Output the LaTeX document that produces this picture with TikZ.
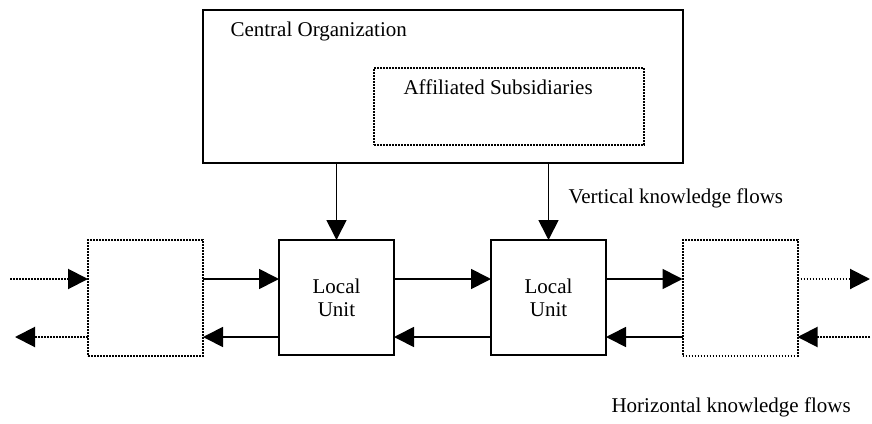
\documentclass[tikz,border=0pt]{standalone}
\usepackage{fontspec}
\setmainfont{Liberation Serif}
\usepackage{tikz}
\usetikzlibrary{arrows.meta}

\begin{document}
\begin{tikzpicture}[x=1pt,y=-1pt,>={Triangle[length=20pt,width=20pt]},
    font=\fontsize{21}{23}\selectfont,
    box/.style={draw,line width=1.7pt,inner sep=0pt,outer sep=0pt},
    ghost/.style={box,line width=2pt,dash pattern=on 1.6pt off 1.4pt},
    flow/.style={->,line width=1.7pt},
    dflow/.style={flow,line width=2pt,dash pattern=on 1.6pt off 1.4pt}]
        \useasboundingbox (0,0) rectangle (872,423);
        % top
        \node[box,line width=2.2pt,minimum width=480pt,minimum height=153pt] (central) at (443,86.5) {};
        \node[ghost,minimum width=270pt,minimum height=77pt] (subs) at (509,106.5) {};
        \node[anchor=base west] (centraltxt) at (227,36) {Central Organization};
        \node[anchor=base west] (substxt) at (400,94) {Affiliated Subsidiaries};
        % units
        \node[box,align=center,minimum width=115pt,minimum height=115pt] (lu1) at (336.5,297.5) {Local\\Unit};
        \node[box,align=center,minimum width=115pt,minimum height=115pt] (lu2) at (548.5,297.5) {Local\\Unit};
        \node[ghost,minimum width=115pt,minimum height=116pt] (gl) at (145.5,298) {};
        \node[ghost,minimum width=115pt,minimum height=116pt] (gr) at (740,298) {};
        \coordinate (up) at (0,279);
        \coordinate (dn) at (0,337);
        \coordinate (farL1) at (10,279);
        \coordinate (farL2) at (15,337);
        \coordinate (farR1) at (870,279);
        \coordinate (farR2) at (870,337);
        % vertical
        \foreach \u in {lu1,lu2}
          \draw[flow] (central.south -| \u.north) -- (\u.north);
        % horizontal
        \foreach \a/\b in {gl/lu1,lu1/lu2,lu2/gr}
          {\draw[flow] (\a.east |- up) -- (\b.west |- up);
           \draw[flow] (\b.west |- dn) -- (\a.east |- dn);}
        \draw[dflow] (farL1) -- (gl.west |- up);
        \draw[dflow] (gl.west |- dn) -- (farL2);
        \draw[dflow] (gr.east |- up) -- (farR1);
        \draw[dflow] (farR2) -- (gr.east |- dn);
        % labels
        \node[anchor=base west] (vlab) at (565,203) {Vertical knowledge flows};
        \node[anchor=base west] (hlab) at (608,412) {Horizontal knowledge flows};
\end{tikzpicture}
\end{document}
